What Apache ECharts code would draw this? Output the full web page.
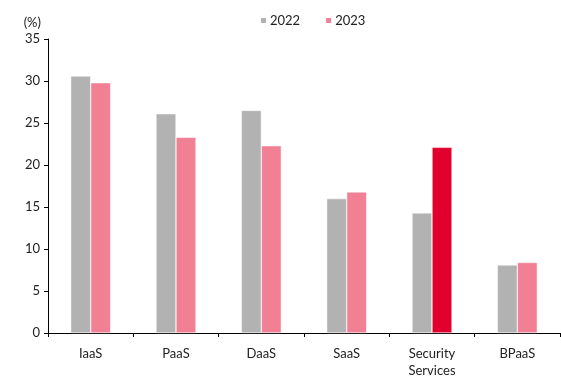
<!DOCTYPE html>
<html><head><meta charset="utf-8">
<script src="https://cdn.jsdelivr.net/npm/echarts@6/dist/echarts.min.js"></script>
<style>html,body{margin:0;padding:0;background:#fff}#c{width:561px;height:380px}</style>
</head><body><div id="c"></div>
<script>
const categories = ['IaaS', 'PaaS', 'DaaS', 'SaaS', 'Security\nServices', 'BPaaS'];
const values2022 = [30.6, 26.1, 26.5, 16.0, 14.3, 8.1];
const values2023 = [29.8, 23.3, 22.3, 16.8, 22.1, 8.4];
const highlightIndex = 4;
const yTicks = [0, 5, 10, 15, 20, 25, 30, 35];

const font = 'Lato, "Open Sans", sans-serif';
const chart = echarts.init(document.getElementById('c'), null, {renderer: 'canvas'});
chart.setOption({
  animation: false,
  textStyle: {fontFamily: font},
  legend: {
    top: 14, left: 259, padding: 0, itemWidth: 7, itemHeight: 7, itemGap: 24,
    icon: 'rect',
    textStyle: {fontFamily: font, fontSize: 13, color: '#222', padding: [0, 0, 0, -2]},
    data: ['2022', '2023']
  },
  grid: {left: 48, right: 1, top: 39, bottom: 47, containLabel: false},
  xAxis: {
    type: 'category', data: categories,
    axisLine: {lineStyle: {color: '#000', width: 1}},
    axisTick: {show: true, length: 4, inside: false, lineStyle: {color: '#000'}},
    axisLabel: {fontFamily: font, fontSize: 13, color: '#222', margin: 12, lineHeight: 17, interval: 0}
  },
  yAxis: {
    type: 'value', min: yTicks[0], max: yTicks[yTicks.length - 1], interval: 5,
    name: '(%)', nameLocation: 'end', nameGap: 10,
    nameTextStyle: {fontFamily: font, fontSize: 13, color: '#222', align: 'right', padding: [0, 7, 0, 0]},
    axisLine: {show: true, lineStyle: {color: '#000', width: 1}},
    axisTick: {show: true, length: 4, lineStyle: {color: '#000'}},
    splitLine: {show: false},
    axisLabel: {fontFamily: font, fontSize: 13, color: '#222', margin: 8}
  },
  series: [
    {
      name: '2022', type: 'bar', data: values2022, barWidth: 20, barGap: '0%',
      itemStyle: {color: '#B2B2B2', borderColor: '#fff', borderWidth: 0.5}
    },
    {
      name: '2023', type: 'bar', barWidth: 20,
      data: values2023.map((v, i) => i === highlightIndex ? {value: v, itemStyle: {color: '#E1002D'}} : v),
      itemStyle: {color: '#F28095', borderColor: '#fff', borderWidth: 0.5}
    }
  ]
});
</script></body></html>
